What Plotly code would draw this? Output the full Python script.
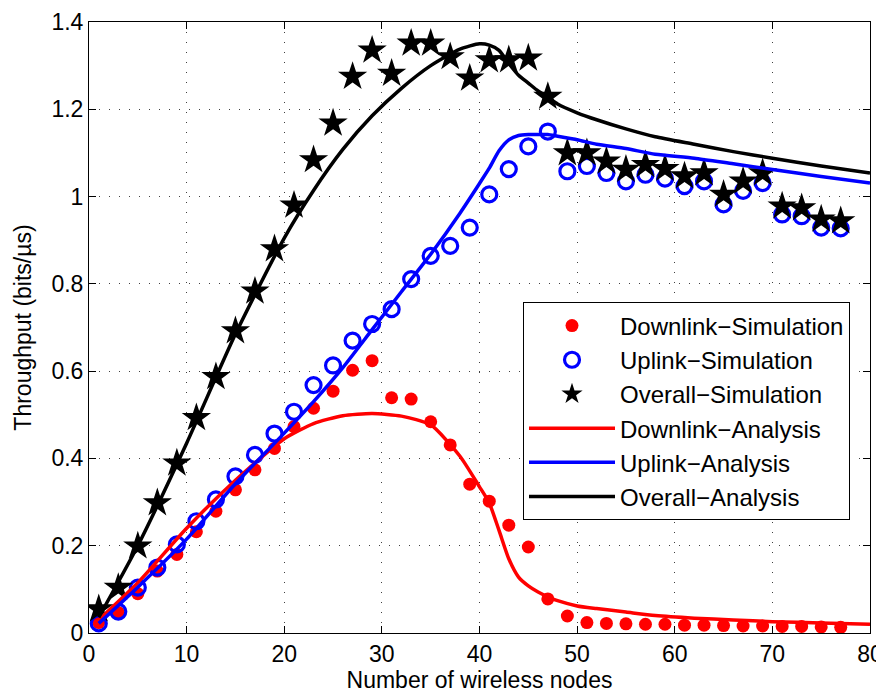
import plotly.graph_objects as go

# Simulation x values (odd numbers of nodes)
x_sim = list(range(1, 78, 2))

downlink_sim = [0.024, 0.047, 0.090, 0.142, 0.180, 0.232, 0.279, 0.328, 0.374, 0.423,
                0.473, 0.515, 0.554, 0.602, 0.624, 0.539, 0.536, 0.484, 0.431, 0.341,
                0.302, 0.247, 0.197, 0.078, 0.039, 0.024, 0.022, 0.021, 0.020, 0.020,
                0.018, 0.018, 0.017, 0.016, 0.016, 0.015, 0.015, 0.014, 0.013]

uplink_sim = [0.022, 0.049, 0.104, 0.150, 0.203, 0.256, 0.306, 0.359, 0.408, 0.457,
              0.507, 0.568, 0.613, 0.670, 0.708, 0.742, 0.811, 0.864, 0.887, 0.929,
              1.005, 1.063, 1.115, 1.149, 1.058, 1.070, 1.054, 1.035, 1.050, 1.041,
              1.024, 1.035, 0.982, 1.013, 1.031, 0.959, 0.955, 0.929, 0.927]

overall_sim = [0.055, 0.104, 0.199, 0.298, 0.389, 0.493, 0.587, 0.692, 0.783, 0.880,
               0.980, 1.084, 1.168, 1.275, 1.335, 1.282, 1.351, 1.351, 1.320, 1.271,
               1.313, 1.313, 1.317, 1.229, 1.100, 1.100, 1.081, 1.062, 1.073, 1.064,
               1.047, 1.054, 1.005, 1.035, 1.054, 0.978, 0.974, 0.948, 0.944]

# Analysis curves
x_an = [1, 5, 10, 15, 20, 23, 26, 29, 32, 35, 38, 40, 41, 42, 43, 44, 45, 46, 47, 48,
        50, 52, 55, 58, 62, 66, 70, 75, 80]

downlink_an = [0.030, 0.115, 0.240, 0.350, 0.445, 0.480, 0.498, 0.503, 0.497, 0.477,
               0.405, 0.335, 0.298, 0.235, 0.170, 0.128, 0.108, 0.094, 0.083, 0.074,
               0.062, 0.056, 0.048, 0.040, 0.034, 0.030, 0.026, 0.023, 0.020]

uplink_an = [0.022, 0.105, 0.215, 0.342, 0.458, 0.530, 0.608, 0.695, 0.782, 0.868,
             0.962, 1.030, 1.065, 1.105, 1.130, 1.140, 1.142, 1.142, 1.142, 1.138,
             1.130, 1.120, 1.110, 1.097, 1.088, 1.075, 1.062, 1.046, 1.031]

overall_an = [0.036, 0.200, 0.435, 0.685, 0.905, 1.014, 1.108, 1.185, 1.248, 1.300,
              1.338, 1.350, 1.347, 1.335, 1.305, 1.278, 1.260, 1.242, 1.228, 1.212,
              1.192, 1.176, 1.155, 1.137, 1.120, 1.103, 1.088, 1.070, 1.054]

x_ticks = [0, 10, 20, 30, 40, 50, 60, 70, 80]
y_ticks = [0, 0.2, 0.4, 0.6, 0.8, 1.0, 1.2, 1.4]
y_tick_labels = ["0", "0.2", "0.4", "0.6", "0.8", "1", "1.2", "1.4"]

MINUS = "\u2212"
names = ["Downlink" + MINUS + "Simulation", "Uplink" + MINUS + "Simulation",
         "Overall" + MINUS + "Simulation", "Downlink" + MINUS + "Analysis",
         "Uplink" + MINUS + "Analysis", "Overall" + MINUS + "Analysis"]

FONT = "Liberation Sans, Arial, sans-serif"
FS = 23

fig = go.Figure()
fig.add_trace(go.Scatter(x=x_sim, y=downlink_sim, mode="markers", name=names[0],
                         legendgroup="g1",
                         marker=dict(symbol="circle", size=13, color="#ff0000",
                                     line=dict(width=0))))
fig.add_trace(go.Scatter(x=x_sim, y=uplink_sim, mode="markers", name=names[1],
                         legendgroup="g2",
                         marker=dict(symbol="circle-open", size=15, color="#0000ff",
                                     line=dict(width=3.2, color="#0000ff"))))
fig.add_trace(go.Scatter(x=x_sim, y=overall_sim, mode="markers", name=names[2],
                         legendgroup="g3",
                         marker=dict(symbol="star", size=22, color="#000000",
                                     line=dict(width=0))))
fig.add_trace(go.Scatter(x=x_an, y=downlink_an, mode="lines", name=names[3],
                         legendgroup="g4",
                         line=dict(color="#ff0000", width=3.5, shape="spline", smoothing=0.6)))
fig.add_trace(go.Scatter(x=x_an, y=uplink_an, mode="lines", name=names[4],
                         legendgroup="g5",
                         line=dict(color="#0000ff", width=3.5, shape="spline", smoothing=0.6)))
fig.add_trace(go.Scatter(x=x_an, y=overall_an, mode="lines", name=names[5],
                         legendgroup="g6",
                         line=dict(color="#000000", width=3.5, shape="spline", smoothing=0.6)))

axis_common = dict(
    showline=True, linecolor="black", linewidth=1, mirror="ticks",
    ticks="inside", ticklen=7, tickcolor="black", tickwidth=1,
    showgrid=True, gridcolor="rgba(0,0,0,0.75)", gridwidth=1, griddash="1px,9px",
    zeroline=False, automargin=False, ticklabeloverflow="allow",
    tickfont=dict(family=FONT, size=FS, color="black"),
)

fig.update_xaxes(range=[0, 80], tickvals=x_ticks,
                 title=dict(text="Number of wireless nodes", standoff=4,
                            font=dict(family=FONT, size=FS, color="black")),
                 **axis_common)
fig.update_yaxes(range=[0, 1.4], tickvals=y_ticks, ticktext=y_tick_labels,
                 title=dict(text="Throughput (bits/\u00b5s)", standoff=13,
                            font=dict(family=FONT, size=FS, color="black")),
                 **axis_common)

# page has an 8px body margin; compensate so the plot area lands where the reference has it
fig.update_layout(
    width=876, height=686,
    margin=dict(l=81, r=14, t=14, b=61),
    paper_bgcolor="white", plot_bgcolor="white",
    font=dict(family=FONT, color="black"),
    legend=dict(x=0.5557, y=0.541, xanchor="left", yanchor="top",
                bgcolor="white", bordercolor="black", borderwidth=1,
                font=dict(size=24, color="black", family=FONT),
                tracegroupgap=0, itemwidth=86),
    showlegend=True,
)

fig.write_html("out.html")
